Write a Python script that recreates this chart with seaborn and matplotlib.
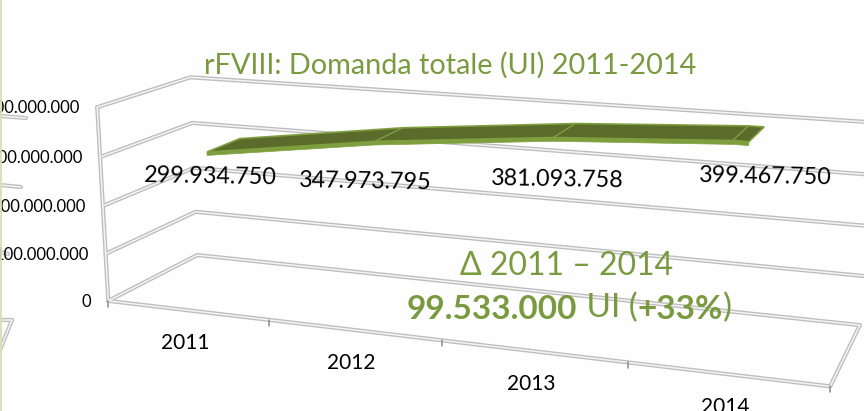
import numpy as np
import pandas as pd
import matplotlib
matplotlib.use("Agg")
import matplotlib.pyplot as plt
import seaborn as sns

years = ["2011", "2012", "2013", "2014"]
demand = [299934750, 347973795, 381093758, 399467750]
demand_labels = ["299.934.750", "347.973.795", "381.093.758", "399.467.750"]
axis_levels = [0, 100000000, 200000000, 300000000, 400000000]
axis_labels = ["0", "100.000.000", "200.000.000", "300.000.000", "400.000.000"]
title = "rFVIII: Domanda totale (UI) 2011-2014"

GREEN = "#7A9A3F"
DARK = "#5A6B2B"
EDGE = "#7F9F3F"
GRID_OUT = "#BDBDBD"
UNIT = 1e8

sns.set_theme(style="white")
plt.rcParams["font.family"] = ["Lato", "DejaVu Sans"]

# Camera calibration: (category, depth, level) -> picture pixel
anchors = [
    ((0, 0, 0), (108, 300)), ((1, 0, 0), (269, 322)), ((2, 0, 0), (441, 342)),
    ((3, 0, 0), (628, 364)), ((4, 0, 0), (830, 385)),
    ((0, 0, 1), (106, 253)), ((0, 0, 2), (104, 205)), ((0, 0, 3), (100, 156)), ((0, 0, 4), (97, 107)),
    ((0, 1, 0), (197, 255)), ((0, 1, 1), (196, 212)), ((0, 1, 2), (194, 168)),
    ((0, 1, 3), (192, 123)), ((0, 1, 4), (190, 78)),
    ((4, 1, 0), (860, 323)), ((4, 1, 1), (865, 276)), ((4, 1, 2), (870, 226)),
    ((4, 1, 3), (875, 176)), ((4, 1, 4), (880, 123)),
]
rows = []
for (X, Y, Z), (px, py) in anchors:
    rows.append([X, Y, Z, 1, 0, 0, 0, 0, -px * X, -px * Y, -px * Z, -px])
    rows.append([0, 0, 0, 0, X, Y, Z, 1, -py * X, -py * Y, -py * Z, -py])
P = np.linalg.svd(np.array(rows, float))[2][-1].reshape(3, 4)


def project(u, v, w):
    h = P @ np.array([u, v, w, 1.0])
    return h[0] / h[2], h[1] / h[2]


def path(points):
    xy = np.array([project(*p) for p in points])
    return xy[:, 0], xy[:, 1]


fig = plt.figure(figsize=(8.64, 4.11), dpi=100, facecolor="#FEFEFE")
ax = fig.add_axes([0, 0, 1, 1])
ax.set_xlim(0, 864)
ax.set_ylim(411, 0)
ax.axis("off")


def rule(x, y, z=1):
    df = pd.DataFrame({"x": x, "y": y})
    sns.lineplot(data=df, x="x", y="y", sort=False, estimator=None, ax=ax,
                 color=GRID_OUT, lw=3.0, zorder=z, legend=False)
    sns.lineplot(data=df, x="x", y="y", sort=False, estimator=None, ax=ax,
                 color="#F4F4F4", lw=1.1, zorder=z + 0.1, legend=False)


# Walls and floor
for lev in axis_levels:
    w = lev / UNIT
    rule(*path([(0, 0, w), (0, 1, w), (4, 1, w)]))
rule(*path([(0, 0, 0), (0, 0, 4)]))
rule(*path([(0, 0, 0), (4, 0, 0), (4, 1, 0)]))

# Stray shapes of the slide at the left edge
for sx, sy in [([0, 26], [116, 118]), ([0, 21], [185, 187]), ([0, 8], [252, 254]),
               ([0, 12, 0], [320, 320, 350])]:
    rule(np.array(sx, float), np.array(sy, float))
ax.axvline(0.6, color="#CFE3B5", lw=1.3, zorder=5)

# Ticks
for u in range(5):
    x, y = project(u, 0, 0)
    ax.plot([x, x], [y, y + 6], color="#8A8A8A", lw=1.1, zorder=3)

# Axis and category labels follow the projection
for lev, lab in zip(axis_levels, axis_labels):
    x, y = project(0, 0, lev / UNIT)
    ax.text(x - 17, y + 1, lab, ha="right", va="center", fontsize=12, color="black")
for i, yr in enumerate(years):
    x, y = project(i + 0.5, 0, 0)
    ax.text(x - 2, y + 33, yr, ha="center", va="center", fontsize=15, color="black")

# Ribbon
V0, V1 = 0.28, 0.66
THICK = 0.07
LIFT = 0.03
us = np.array([0.5, 1.5, 2.48, 3.39])
ws = np.array(demand) / UNIT + LIFT
us_end = np.append(us, 3.47)
ws_end = np.append(ws, ws[-1])
back = path([(u, V1, w) for u, w in zip(us_end, ws_end)])
front = path([(u, V0, w) for u, w in zip(us_end, ws_end)])
under = path([(u, V0, w - THICK) for u, w in zip(us_end, ws_end)])
ax.fill(np.r_[front[0], under[0][::-1]], np.r_[front[1], under[1][::-1]],
        color=EDGE, lw=0.5, zorder=6)
ax.fill(np.r_[back[0], front[0][::-1]], np.r_[back[1], front[1][::-1]],
        facecolor=DARK, edgecolor=EDGE, lw=1.2, zorder=7)
for i in [1, 2, 3]:
    ax.plot([front[0][i], back[0][i]], [front[1][i], back[1][i]], color=EDGE, lw=1.0, zorder=8)

# Data labels
label_x = [210, 365, 557, 765]
label_y = [177, 182, 180, 177]
for x, y, lab in zip(label_x, label_y, demand_labels):
    ax.text(x, y, lab, ha="center", va="center", fontsize=16.8, color="black",
            rotation=-1, zorder=9)

ax.text(450, 65, title, ha="center", va="center", fontsize=20.8, color=GREEN, zorder=9)
ax.text(567, 266, "Δ 2011 – 2014", ha="center", va="center", fontsize=23, color=GREEN, zorder=9)
t1 = ax.text(407, 309, "99.533.000", ha="left", va="center", fontsize=24, color=GREEN,
             fontweight="bold", zorder=9)
t2 = ax.annotate(" UI (", xy=(1, 0), xycoords=t1, va="bottom", ha="left", fontsize=24, color=GREEN, zorder=9)
t3 = ax.annotate("+33%", xy=(1, 0), xycoords=t2, va="bottom", ha="left", fontsize=24, color=GREEN,
                 fontweight="bold", zorder=9)
ax.annotate(")", xy=(1, 0), xycoords=t3, va="bottom", ha="left", fontsize=24, color=GREEN, zorder=9)

fig.savefig("out.png", dpi=100, facecolor=fig.get_facecolor())
